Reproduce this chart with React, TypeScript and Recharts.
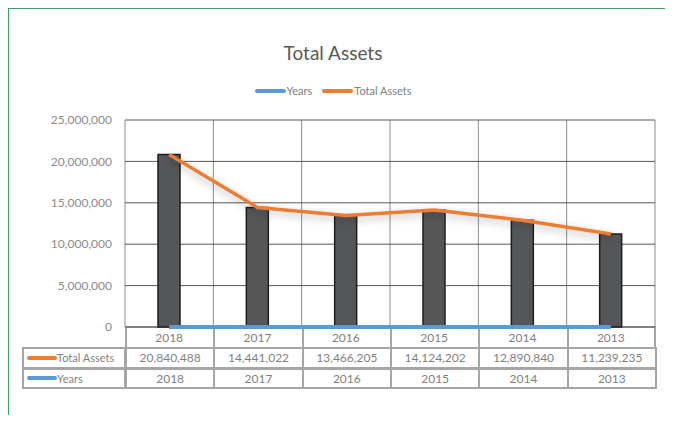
import {
  Bar,
  CartesianGrid,
  ComposedChart,
  Line,
  XAxis,
  YAxis,
} from "recharts";

const CATEGORIES = ["2018", "2017", "2016", "2015", "2014", "2013"];
const TOTAL_ASSETS = [20840488, 14441022, 13466205, 14124202, 12890840, 11239235];
const YEARS = [2018, 2017, 2016, 2015, 2014, 2013];
const Y_TICKS = [0, 5000000, 10000000, 15000000, 20000000, 25000000];

const ORANGE = "#ed7d31";
const BLUE = "#5b9bd5";
const FONT = "Lato, 'Open Sans', sans-serif";

const data = CATEGORIES.map((c, i) => ({
  year: c,
  totalAssets: TOTAL_ASSETS[i],
  years: YEARS[i],
}));

// plot area box (table below lines up with it)
const PLOT_LEFT = 125;
const PLOT_RIGHT = 655;
const PLOT_TOP = 120;
const PLOT_BOTTOM = 327;
const COL_W = (PLOT_RIGHT - PLOT_LEFT) / CATEGORIES.length;
const fmt = (v: number) => v.toLocaleString("en-US");

const columnEdges = ({ offset }: any) =>
  CATEGORIES.map((_, i) => offset.left + (i * offset.width) / CATEGORIES.length).concat(
    offset.left + offset.width
  );

function LegendContent() {
  const items = [
    { label: "Years", color: BLUE },
    { label: "Total Assets", color: ORANGE },
  ];
  return (
    <div
      style={{
        position: "absolute",
        left: 0,
        width: 666,
        top: 84,
        display: "flex",
        justifyContent: "center",
        gap: 10,
        fontFamily: FONT,
        fontSize: 11,
        color: "#808080",
      }}
    >
      {items.map((it) => (
        <span key={it.label} style={{ display: "flex", alignItems: "center" }}>
          <span
            style={{
              display: "inline-block",
              width: 31,
              height: 4,
              borderRadius: 2,
              background: it.color,
              marginRight: 1,
            }}
          />
          {it.label}
        </span>
      ))}
    </div>
  );
}

function DataTable() {
  const border = "2px solid #a6a6a6";
  const rows = [
    { label: "Total Assets", color: ORANGE, values: TOTAL_ASSETS.map(fmt) },
    { label: "Years", color: BLUE, values: YEARS.map(String) },
  ];
  const cell = {
    position: "absolute" as const,
    height: 20,
    display: "flex",
    alignItems: "center",
    justifyContent: "center",
    boxSizing: "border-box" as const,
    fontFamily: FONT,
    fontSize: 12,
    color: "#7f7f7f",
  };
  return (
    <>
      {/* category row cells */}
      {CATEGORIES.map((c, i) => (
        <div
          key={c}
          style={{
            ...cell,
            left: PLOT_LEFT + i * COL_W,
            top: PLOT_BOTTOM - 1,
            width: COL_W + 1,
            height: 21,
            borderTop: border,
            borderLeft: border,
            borderRight: i === CATEGORIES.length - 1 ? border : undefined,
          }}
        />
      ))}
      {rows.map((r, ri) => (
        <div key={r.label}>
          <div
            style={{
              ...cell,
              left: 22,
              top: PLOT_BOTTOM + 20 + ri * 20.5,
              width: PLOT_LEFT - 22 + 1,
              height: 21.5,
              border,
              justifyContent: "flex-start",
              paddingLeft: 3,
              fontSize: 11,
            }}
          >
            <span
              style={{
                display: "inline-block",
                width: 30,
                height: 4,
                borderRadius: 2,
                background: r.color,
              }}
            />
            {r.label}
          </div>
          {r.values.map((v, i) => (
            <div
              key={i}
              style={{
                ...cell,
                left: PLOT_LEFT + i * COL_W,
                top: PLOT_BOTTOM + 20 + ri * 20.5,
                width: COL_W + 2,
                height: 21.5,
                border,
              }}
            >
              {v}
            </div>
          ))}
        </div>
      ))}
    </>
  );
}

export default function App() {
  return (
    <div
      style={{
        position: "relative",
        margin: -8,
        width: 673,
        height: 423,
        background: "#fff",
        overflow: "hidden",
      }}
    >
      <div
        style={{
          position: "absolute",
          left: 7,
          top: 7,
          width: 663,
          height: 440,
          border: "2px solid #3c9f64",
          boxSizing: "border-box",
        }}
      />
      <div
        style={{
          position: "absolute",
          left: 0,
          width: 666,
          top: 41,
          textAlign: "center",
          fontFamily: FONT,
          fontSize: 19,
          color: "#595959",
        }}
      >
        Total Assets
      </div>
      <LegendContent />
      <DataTable />
      <div style={{ position: "absolute", left: 0, top: 0 }}>
        <ComposedChart
          width={673}
          height={423}
          data={data}
          margin={{
            top: PLOT_TOP,
            right: 673 - PLOT_RIGHT,
            bottom: 423 - PLOT_BOTTOM - 20,
            left: PLOT_LEFT - 100,
          }}
          barSize={22}
        >
          <defs>
            <filter id="lineShadow" x="-10%" y="-40%" width="120%" height="180%">
              <feDropShadow dx="0" dy="3" stdDeviation="4" floodColor="#000" floodOpacity="0.28" />
            </filter>
          </defs>
          <CartesianGrid
            stroke="#8c8c8c"
            horizontal={false}
            verticalCoordinatesGenerator={columnEdges}
          />
          <CartesianGrid stroke="#595959" vertical={false} />
          <XAxis
            dataKey="year"
            height={20}
            tickLine={false}
            axisLine={false}
            tick={{ fill: "#7f7f7f", fontSize: 12, fontFamily: FONT }}
            tickMargin={0}
          />
          <YAxis
            width={100}
            domain={[0, 25000000]}
            ticks={Y_TICKS}
            tickFormatter={fmt}
            axisLine={false}
            tickLine={false}
            tickMargin={7}
            tick={{ fill: "#8c8c8c", fontSize: 12, fontFamily: FONT }}
          />
          <Line
            dataKey="years"
            stroke={BLUE}
            strokeWidth={4}
            dot={false}
            isAnimationActive={false}
          />
          <Bar
            dataKey="totalAssets"
            fill="#555658"
            stroke="#1f1f1f"
            strokeWidth={1.5}
            legendType="none"
            isAnimationActive={false}
          />
          <Line
            type="linear"
            dataKey="totalAssets"
            stroke={ORANGE}
            strokeWidth={3.5}
            strokeLinejoin="round"
            dot={false}
            filter="url(#lineShadow)"
            isAnimationActive={false}
          />
        </ComposedChart>
      </div>
    </div>
  );
}
